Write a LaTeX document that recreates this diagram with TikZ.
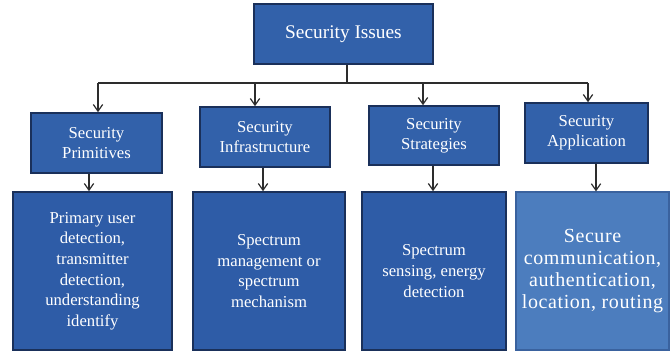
\documentclass[tikz,border=0pt]{standalone}
\usepackage{fontspec}
\setmainfont{Liberation Serif}
\usetikzlibrary{arrows.meta}
\definecolor{boxblue}{RGB}{50,97,170}
\definecolor{boxdark}{RGB}{46,92,167}
\definecolor{boxlight}{RGB}{76,125,190}
\definecolor{boxedge}{RGB}{26,48,90}
\definecolor{lightedge}{RGB}{58,98,158}
\definecolor{linegray}{RGB}{45,45,45}
\tikzset{
  box/.style 2 args={draw=boxedge, line width=1.2pt, fill=boxblue, text=white,
    align=center, inner sep=0pt, minimum width=#1*0.75pt, minimum height=#2*0.75pt},
  toptext/.style={font=\fontsize{14.5}{17}\selectfont},
  midtext/.style={font=\fontsize{12.5}{15}\selectfont},
  lowtext/.style={font=\fontsize{12.5}{15.5}\selectfont},
  apptext/.style={font=\fontsize{15}{16.5}\selectfont\addfontfeature{LetterSpace=3}},
  conn/.style={draw=linegray, line width=0.9pt},
  arr/.style={conn, -{Straight Barb[length=5pt,width=7pt]}}
}
\begin{document}
\begin{tikzpicture}[x=0.75pt, y=-0.75pt]
\useasboundingbox[fill=white] (0,0) rectangle (670,351);
% top
\node[box={179}{60}, toptext] (top) at (343.5,34) {Security Issues};
% level 2
\node[box={131}{60}, midtext] (b1) at (96.5,143) {Security\\Primitives};
\node[box={130}{60}, midtext] (b2) at (265,137) {Security\\Infrastructure};
\node[box={130}{59}, midtext] (b3) at (434,135.5) {Security\\Strategies};
\node[box={123}{60}, midtext] (b4) at (586.5,133) {Security\\Application};
% level 3
\node[box={159}{158}, lowtext, fill=boxdark] (c1) at (92.5,271) {Primary user\\detection,\\transmitter\\detection,\\understanding\\identify};
\node[box={152}{158}, lowtext, fill=boxdark] (c2) at (269,271) {Spectrum\\management or\\spectrum\\mechanism};
\node[box={144}{158}, lowtext, fill=boxdark] (c3) at (434,271) {Spectrum\\sensing, energy\\detection};
\node[box={153}{158}, apptext, fill=boxlight, draw=lightedge, line width=0.9pt] (c4) at (592.5,271) {Secure\\communication,\\authentication,\\location, routing};
% junction coordinates
\coordinate (j0) at (347,83);
\coordinate (j1) at (98,83);
\coordinate (j2) at (255,83);
\coordinate (j3) at (423,83);
\coordinate (j4) at (588,83);
\coordinate (s1) at (89,0);
\coordinate (s2) at (263,0);
\coordinate (s3) at (433,0);
\coordinate (s4) at (596,0);
% connectors
\draw[conn] (top.south -| j0) -- (j0);
\draw[conn] (j1) -- (j4);
\draw[arr] (j1) -- (j1 |- b1.north);
\draw[arr] (j2) -- (j2 |- b2.north);
\draw[arr] (j3) -- (j3 |- b3.north);
\draw[arr] (j4) -- (j4 |- b4.north);
\draw[arr] (b1.south -| s1) -- (c1.north -| s1);
\draw[arr] (b2.south -| s2) -- (c2.north -| s2);
\draw[arr] (b3.south -| s3) -- (c3.north -| s3);
\draw[arr] (b4.south -| s4) -- (c4.north -| s4);
\end{tikzpicture}
\end{document}
